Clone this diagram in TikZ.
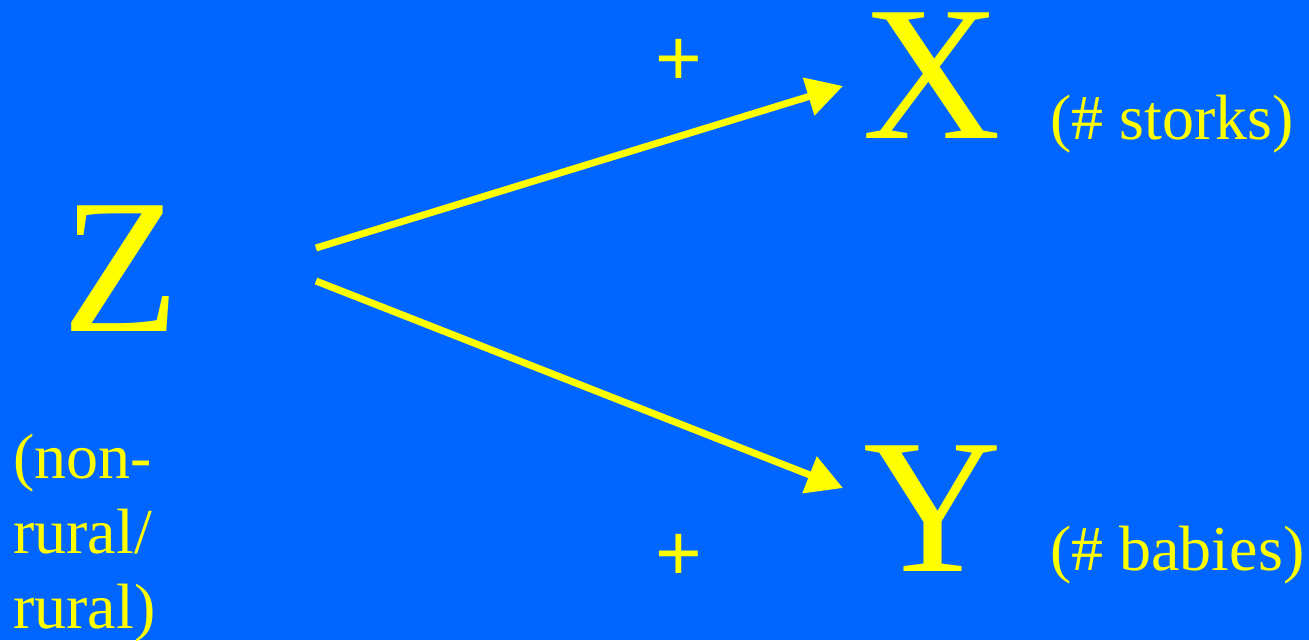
\documentclass[tikz,border=0pt]{standalone}
\usepackage{fontspec}
\setmainfont{Liberation Serif}
\newfontfamily\plusfont{Liberation Sans}
\usetikzlibrary{arrows.meta}
\definecolor{bg}{HTML}{0066FF}
\definecolor{yl}{HTML}{FFFF00}
\tikzset{
  big/.style={text=yl, font=\fontsize{192}{192}\selectfont, anchor=base, inner sep=0pt},
  lab/.style={text=yl, font=\fontsize{64}{75}\selectfont, anchor=base west, inner sep=0pt},
  sign/.style={text=yl, font=\plusfont\fontsize{80}{80}\selectfont, anchor=center, inner sep=0pt},
  conn/.style={draw=yl, line width=7pt, -{Triangle[length=36pt,width=38pt]}}
}
\begin{document}
\begin{tikzpicture}[x=1pt,y=-1pt]
\fill[bg] (0,0) rectangle (1309,640);
\useasboundingbox (0,0) rectangle (1309,640);
\node[big] (Z) at (121.5,331) {Z};
\node[big] (X) at (931.5,138) {X};
\node[big] (Y) at (932.5,571) {Y};
\node[lab] (xl) at (1050,139) {(\# storks)};
\node[lab] (yl) at (1050,570) {(\# babies)};
\node[lab, align=left] (zl) at (13,628) {(non-\\rural/\\rural)};
\node[sign] (p1) at (679,62) {+};
\node[sign] (p2) at (679,557.5) {+};
\coordinate (s1) at (316,248);
\coordinate (t1) at (843,86);
\coordinate (s2) at (316,281);
\coordinate (t2) at (843,488);
\draw[conn] (s1) -- (t1);
\draw[conn] (s2) -- (t2);
\end{tikzpicture}
\end{document}
